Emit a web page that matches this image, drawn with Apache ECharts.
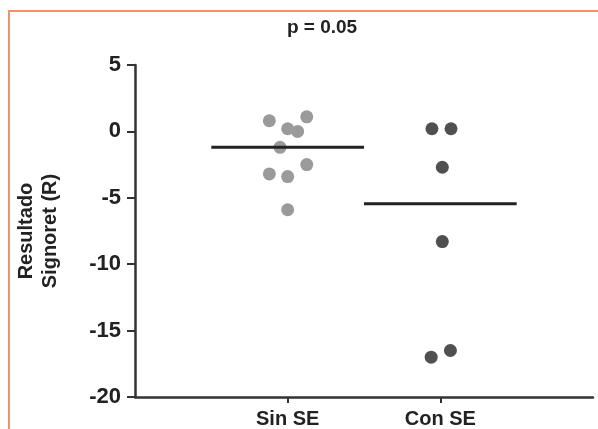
<!DOCTYPE html>
<html>
<head>
<meta charset="utf-8">
<script src="https://cdn.jsdelivr.net/npm/echarts@6/dist/echarts.min.js"></script>
<style>
  html, body { margin: 0; padding: 0; background: #fff; }
  #chart { width: 598px; height: 429px; }
</style>
</head>
<body>
<div id="chart"></div>
<script>
// groups and their positions on the x scale
const groups = ["Sin SE", "Con SE"];
const groupPos = [1, 2];

// values (Resultado Signoret)
const sinValues = [1.1, 0.8, 0.2, 0.0, -1.2, -2.5, -3.2, -3.4, -5.9];
const sinJitter = [0.125, -0.12, 0, 0.065, -0.05, 0.125, -0.12, 0, 0];
const conValues = [0.2, 0.2, -2.7, -8.3, -16.5, -17.0];
const conJitter = [-0.055, 0.07, 0.013, 0.013, 0.066, -0.06];

// median lines
const medians = [-1.2, -5.45];

const yTicks = { min: -20, max: 5, interval: 5 };

const chart = echarts.init(document.getElementById("chart"));

const toPoints = (vals, jit, pos) => vals.map((v, i) => [pos + jit[i], v]);

const medianSeries = medians.map((m, i) => ({
  type: "line",
  data: [[groupPos[i] - 0.5, m], [groupPos[i] + 0.5, m]],
  symbol: "none",
  silent: true,
  z: 3,
  lineStyle: { color: "#222", width: 3 }
}));

const option = {
  backgroundColor: "#fff",
  animation: false,
  title: {
    text: "p = 0.05",
    left: 317,
    top: 13,
    textAlign: "center",
    textStyle: { fontFamily: "Liberation Sans", fontWeight: "bold", fontSize: 19, color: "#222" }
  },
  graphic: [
    {
      type: "polyline",
      shape: { points: [[9, 429], [9, 11], [598, 11]] },
      style: { stroke: "#f4916a", lineWidth: 2, fill: null }
    }
  ],
  grid: { left: 135, right: 5, top: 65, bottom: 31 },
  xAxis: {
    type: "value",
    min: 0,
    max: 3,
    splitLine: { show: false },
    axisLine: { onZero: false, lineStyle: { color: "#333", width: 2.5 } },
    axisTick: { customValues: groupPos, length: 6, lineStyle: { color: "#333", width: 2 } },
    axisLabel: {
      customValues: groupPos,
      formatter: (v) => groups[groupPos.indexOf(v)] || "",
      margin: 12,
      fontFamily: "Liberation Sans",
      fontWeight: "bold",
      fontSize: 20,
      color: "#222"
    }
  },
  yAxis: {
    type: "value",
    min: yTicks.min,
    max: yTicks.max,
    interval: yTicks.interval,
    name: "Resultado\nSignoret (R)",
    nameLocation: "middle",
    nameRotate: 90,
    nameGap: 73,
    nameTextStyle: {
      fontFamily: "Liberation Sans",
      fontWeight: "bold",
      fontSize: 20,
      lineHeight: 24,
      color: "#222"
    },
    splitLine: { show: false },
    axisLine: { show: true, lineStyle: { color: "#333", width: 2.5 } },
    axisTick: { show: true, length: 8, lineStyle: { color: "#333", width: 2 } },
    axisLabel: {
      margin: 14,
      fontFamily: "Liberation Sans",
      fontWeight: "bold",
      fontSize: 22,
      color: "#222"
    }
  },
  series: [
    {
      type: "scatter",
      data: toPoints(sinValues, sinJitter, groupPos[0]),
      symbolSize: 13,
      itemStyle: { color: "#9a9a9a", opacity: 1 },
      z: 2
    },
    {
      type: "scatter",
      data: toPoints(conValues, conJitter, groupPos[1]),
      symbolSize: 13,
      itemStyle: { color: "#505050", opacity: 1 },
      z: 2
    },
    ...medianSeries
  ]
};

chart.setOption(option);
</script>
</body>
</html>
